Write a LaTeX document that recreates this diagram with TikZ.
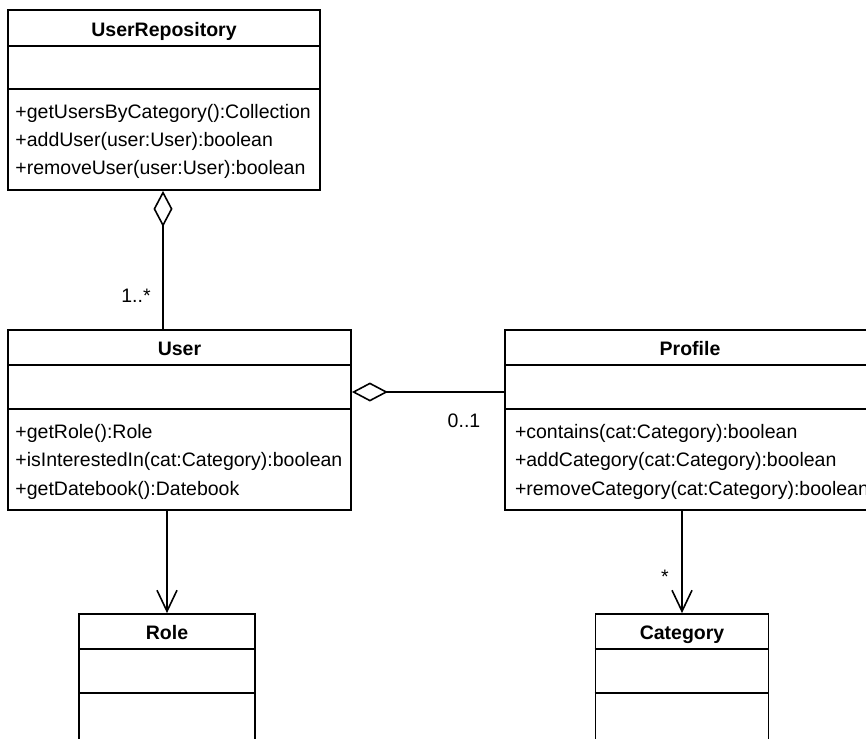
\documentclass[tikz,border=0pt]{standalone}
\usepackage{fontspec}
\setmainfont{Liberation Sans}
\usetikzlibrary{arrows.meta,positioning,calc}

\begin{document}
\begin{tikzpicture}[x=1pt, y=-1pt, line width=1.8pt, every node/.style={font=\fontsize{19.5}{23}\selectfont}]
\tikzset{cls/.style={draw, rectangle, inner sep=0pt, line width=1.8pt},
  clsname/.style={anchor=base, inner sep=0pt, font=\fontsize{19.5}{23}\selectfont\bfseries},
  meth/.style={anchor=base west, inner sep=0pt},
  mult/.style={anchor=base, inner sep=0pt},
  agg/.style={{Diamond[open, length=36pt, width=19pt, line width=1.6pt]}-},
  nav/.style={-{Straight Barb[length=21pt, width=20pt, line width=1.6pt]}}}
\useasboundingbox (0,0) rectangle (866,738);
\clip (0,0) rectangle (866,738);

% classes
\node[cls, minimum width=312pt, minimum height=180pt] (repo) at (164,100) {};
\node[cls, minimum width=343pt, minimum height=180pt] (user) at (179.5,420) {};
\node[cls, minimum width=370pt, minimum height=180pt] (prof) at (690,420) {};
\node[cls, minimum width=176pt, minimum height=150pt] (role) at (167,689) {};
\node[cls, minimum width=173pt, minimum height=150pt] (cat) at (682,689) {};

% UserRepository
\node[clsname] (repoN) at ($(repo.north)+(0,27)$) {UserRepository};
\draw ($(repo.north west)+(0,37)$) -- ($(repo.north east)+(0,37)$);
\draw ($(repo.north west)+(0,80)$) -- ($(repo.north east)+(0,80)$);
\node[meth] (repoM1) at ($(repo.north west)+(7.5,109)$) {+getUsersByCategory():Collection};
\node[meth] (repoM2) at ($(repo.north west)+(7.5,137)$) {+addUser(user:User):boolean};
\node[meth] (repoM3) at ($(repo.north west)+(7.5,165)$) {+removeUser(user:User):boolean};

% User
\node[clsname] (userN) at ($(user.north)+(0,26)$) {User};
\draw ($(user.north west)+(0,36)$) -- ($(user.north east)+(0,36)$);
\draw ($(user.north west)+(0,80)$) -- ($(user.north east)+(0,80)$);
\node[meth] (userM1) at ($(user.north west)+(7.5,109)$) {+getRole():Role};
\node[meth] (userM2) at ($(user.north west)+(7.5,137)$) {+isInterestedIn(cat:Category):boolean};
\node[meth] (userM3) at ($(user.north west)+(7.5,166)$) {+getDatebook():Datebook};

% Profile
\node[clsname] (profN) at ($(prof.north)+(0,26)$) {Profile};
\draw ($(prof.north west)+(0,36)$) -- ($(prof.north east)+(0,36)$);
\draw ($(prof.north west)+(0,80)$) -- ($(prof.north east)+(0,80)$);
\node[meth] (profM1) at ($(prof.north west)+(10,109)$) {+contains(cat:Category):boolean};
\node[meth] (profM2) at ($(prof.north west)+(10,137)$) {+addCategory(cat:Category):boolean};
\node[meth] (profM3) at ($(prof.north west)+(10,166)$) {+removeCategory(cat:Category):boolean};

% Role and Category
\node[clsname] (roleN) at ($(role.north)+(0,26)$) {Role};
\draw ($(role.north west)+(0,36)$) -- ($(role.north east)+(0,36)$);
\draw ($(role.north west)+(0,80)$) -- ($(role.north east)+(0,80)$);
\node[clsname] (catN) at ($(cat.north)+(0,26)$) {Category};
\draw ($(cat.north west)+(0,36)$) -- ($(cat.north east)+(0,36)$);
\draw ($(cat.north west)+(0,80)$) -- ($(cat.north east)+(0,80)$);

% associations
\coordinate (repoA) at ($(repo.south)+(-1,0)$);
\coordinate (userA) at ($(user.east)+(0,-28)$);
\draw[agg] (repoA) -- (repoA |- user.north);
\node[mult] (m1) at (136,302) {1..*};
\draw[agg] (userA) -- (userA -| prof.west);
\node[mult] (m2) at (464,427) {0..1};
\draw[nav] (user.south -| role.north) -- (role.north);
\draw[nav] (prof.south -| cat.north) -- (cat.north);
\node[mult] (m3) at (665,583) {*};
\end{tikzpicture}
\end{document}
